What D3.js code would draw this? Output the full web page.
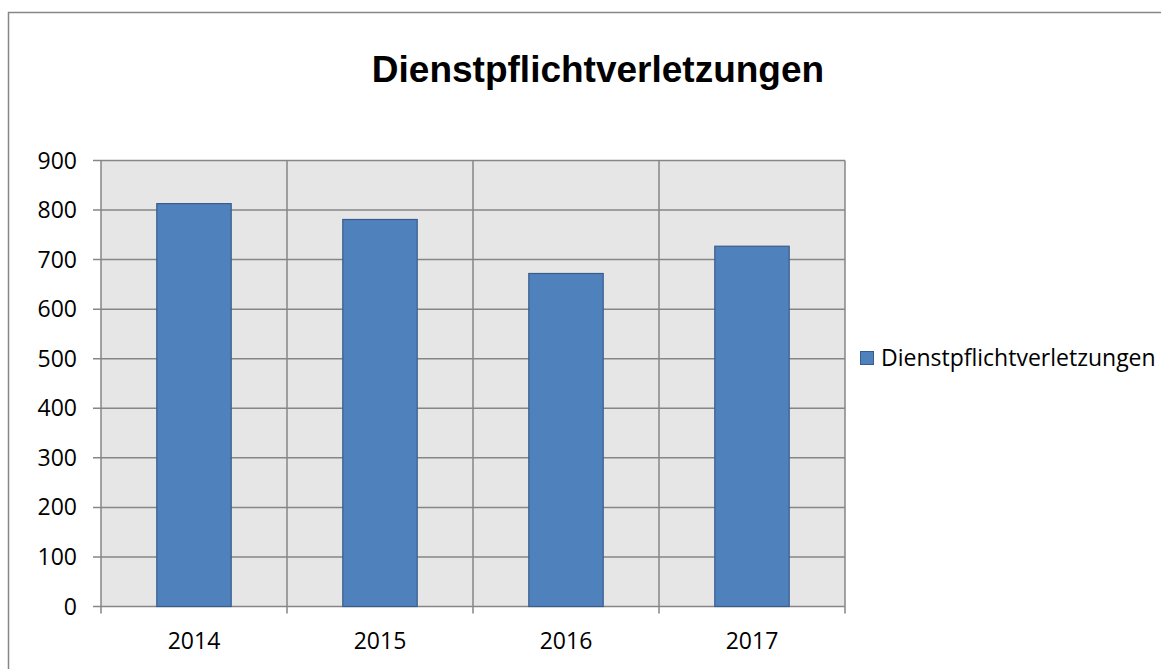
<!DOCTYPE html>
<html><head><meta charset="utf-8">
<script src="https://cdn.jsdelivr.net/npm/d3@7"></script>
<style>body{margin:0;background:#fff}svg{display:block}</style>
</head><body>
<svg id="c" width="1161" height="669"></svg>
<script>
const title = "Dienstpflichtverletzungen";
const seriesName = "Dienstpflichtverletzungen";
const categories = ["2014", "2015", "2016", "2017"];
const values = [813, 781, 672, 727];
const yTicks = [0, 100, 200, 300, 400, 500, 600, 700, 800, 900];

const svg = d3.select("#c");
const font = "'Open Sans', 'DejaVu Sans', sans-serif";
const plot = {left: 101, right: 845, top: 160.5, bottom: 606.5};

svg.append("rect").attr("x", 8.5).attr("y", 12.5).attr("width", 1200).attr("height", 700)
  .attr("fill", "#fff").attr("stroke", "#868686").attr("stroke-width", 1.5);

svg.append("text").attr("x", 598).attr("y", 82).attr("text-anchor", "middle")
  .attr("font-family", "'Liberation Sans', Arial, sans-serif").attr("font-weight", "bold")
  .attr("font-size", 37).attr("fill", "#000").text(title);

const x = d3.scaleBand().domain(categories).range([plot.left, plot.right]).paddingInner(0.6).paddingOuter(0.3);
const xb = d3.scaleBand().domain(categories).range([plot.left, plot.right]);
const y = d3.scaleLinear().domain([0, 900]).range([plot.bottom, plot.top]);

svg.append("rect").attr("x", plot.left).attr("y", plot.top).attr("width", plot.right - plot.left)
  .attr("height", plot.bottom - plot.top).attr("fill", "#E6E6E6");

svg.append("g").selectAll("line").data(yTicks).join("line")
  .attr("x1", plot.left - 8).attr("x2", plot.right)
  .attr("y1", d => y(d)).attr("y2", d => y(d))
  .attr("stroke", "#868686").attr("stroke-width", 1.5);
const bounds = categories.map(c => xb(c)).concat([plot.right]);
svg.append("g").selectAll("line").data(bounds).join("line")
  .attr("x1", d => d).attr("x2", d => d)
  .attr("y1", plot.top).attr("y2", plot.bottom + 7)
  .attr("stroke", "#868686").attr("stroke-width", 1.5);

svg.append("g").selectAll("rect").data(values).join("rect")
  .attr("x", (d, i) => x(categories[i]))
  .attr("y", d => y(d))
  .attr("width", x.bandwidth())
  .attr("height", d => plot.bottom - y(d))
  .attr("fill", "#4F81BD").attr("stroke", "#385D8A").attr("stroke-width", 1.2);

svg.append("g").selectAll("text").data(yTicks).join("text")
  .attr("x", 77).attr("y", d => y(d)).attr("dy", "0.35em").attr("text-anchor", "end")
  .attr("font-family", font).attr("font-size", 23).attr("fill", "#000").text(d => d);

svg.append("g").selectAll("text").data(categories).join("text")
  .attr("x", d => xb(d) + xb.bandwidth() / 2).attr("y", 649).attr("text-anchor", "middle")
  .attr("font-family", font).attr("font-size", 23).attr("fill", "#000").text(d => d);

svg.append("rect").attr("x", 860.5).attr("y", 351.5).attr("width", 13).attr("height", 13)
  .attr("fill", "#4F81BD").attr("stroke", "#385D8A").attr("stroke-width", 1);
svg.append("text").attr("x", 881).attr("y", 366).attr("font-family", font).attr("font-size", 23)
  .attr("fill", "#000").text(seriesName);
</script>
</body></html>
